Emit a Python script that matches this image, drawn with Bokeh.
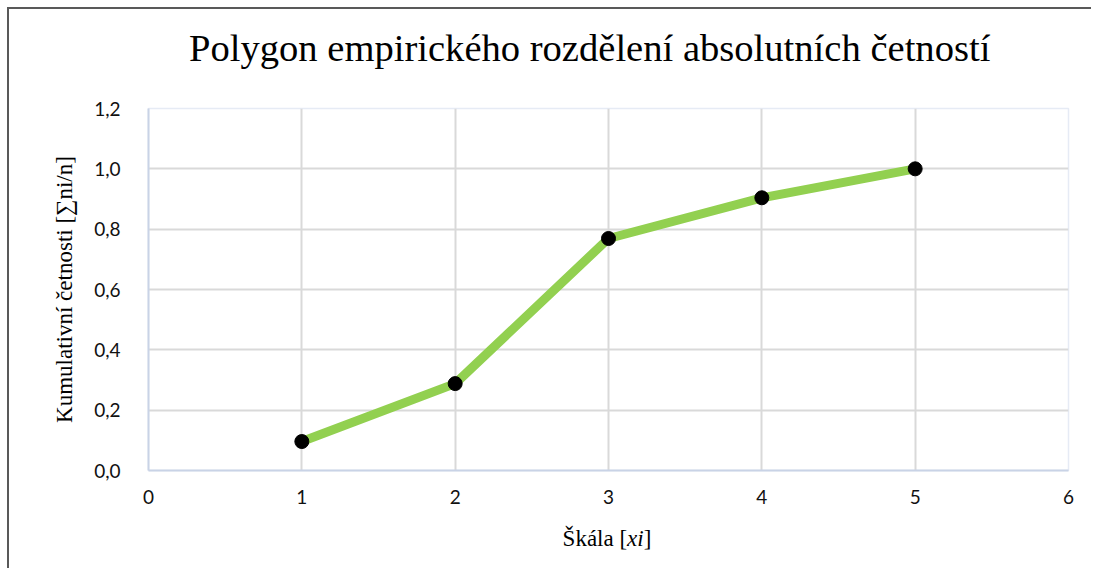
from bokeh.plotting import figure
from bokeh.models import Range1d, FixedTicker, CustomJSTickFormatter, Div
from bokeh.layouts import column
from bokeh.embed import file_html
from bokeh.resources import INLINE

# data
x_values = [1, 2, 3, 4, 5]
cumulative = [0.096, 0.288, 0.769, 0.904, 1.0]
x_ticks = [0, 1, 2, 3, 4, 5, 6]
y_ticks = [0.0, 0.2, 0.4, 0.6, 0.8, 1.0, 1.2]
title_text = "Polygon empirického rozdělení absolutních četností"
x_label_main = "Škála"
x_label_var = "xi"
y_label = "Kumulativní četnosti [∑ni/n]"

W = 1082

title_div = Div(
    text=('<div style="font-family:\'Liberation Serif\';font-size:38.6px;line-height:normal;'
          'white-space:nowrap;padding-top:17px;padding-left:180px;color:#000;">'
          + title_text + '</div>'),
    width=W, height=87, margin=(0, 0, 0, 0))

p = figure(width=W, height=412, output_backend="svg", toolbar_location=None,
           x_range=Range1d(0, 6), y_range=Range1d(0, 1.2),
           min_border_left=139, min_border_right=23, min_border_top=12, min_border_bottom=38,
           margin=(0, 0, 0, 0))

p.line(x_values, cumulative, line_color="#92d050", line_width=9, line_join="round")
p.scatter(x_values, cumulative, size=14, fill_color="#000000", line_color="#000000")

p.xaxis.ticker = FixedTicker(ticks=x_ticks)
p.yaxis.ticker = FixedTicker(ticks=y_ticks)
p.yaxis.formatter = CustomJSTickFormatter(code="return tick.toFixed(1).replace('.', ',');")

for ax in (p.xaxis, p.yaxis):
    ax.major_tick_line_color = None
    ax.minor_tick_line_color = None
    ax.axis_line_color = "#c9d3e6"
    ax.axis_line_width = 2
    ax.major_label_text_font = "Lato"
    ax.major_label_text_font_size = "19px"
    ax.major_label_text_color = "#111111"
    ax.axis_label_text_font = "Liberation Serif"
    ax.axis_label_text_font_size = "23px"
    ax.axis_label_text_font_style = "normal"
    ax.axis_label_text_color = "#000000"

p.yaxis.axis_label = y_label
p.xaxis.major_label_standoff = 13
p.yaxis.major_label_standoff = 22
p.yaxis.axis_label_standoff = 14

p.xgrid.ticker = FixedTicker(ticks=x_ticks)
p.ygrid.ticker = FixedTicker(ticks=y_ticks)
p.grid.grid_line_color = "#d9d9d9"
p.grid.grid_line_width = 2
p.outline_line_color = "#e6ebf5"
p.outline_line_width = 1.5

xlabel_div = Div(
    text=('<div style="font-family:\'Liberation Serif\';font-size:23px;line-height:normal;'
          'white-space:nowrap;padding-top:18px;margin-left:114px;width:968px;'
          'text-align:center;color:#000;">'
          + x_label_main + ' [<i>' + x_label_var + '</i>]</div>'),
    width=W, height=60, margin=(0, 0, 0, 0))

layout = column(title_div, p, xlabel_div, spacing=0)
layout.styles = {"margin-left": "7px", "margin-top": "7px",
                 "border-left": "2px solid #595959", "border-top": "2px solid #595959",
                 "background-color": "#ffffff"}

open("out.html", "w").write(file_html(layout, INLINE))
